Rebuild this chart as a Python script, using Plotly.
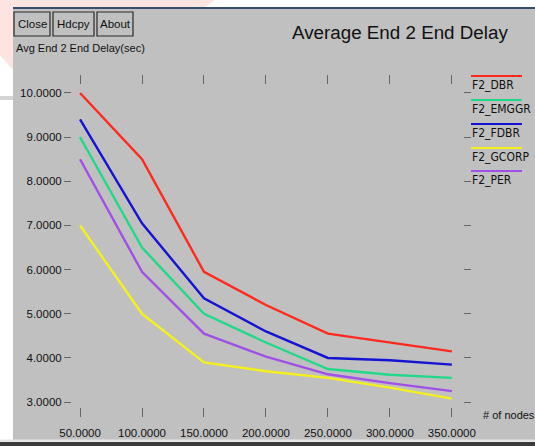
import plotly.graph_objects as go

# ---- data -------------------------------------------------------------
nodes = [50, 100, 150, 200, 250, 300, 350]
series_names = ["F2_DBR", "F2_EMGGR", "F2_FDBR", "F2_GCORP", "F2_PER"]
dbr = [10.0, 8.5, 5.95, 5.2, 4.55, 4.35, 4.15]
emggr = [9.0, 6.5, 5.0, 4.35, 3.75, 3.62, 3.55]
fdbr = [9.4, 7.05, 5.35, 4.6, 4.0, 3.95, 3.85]
gcorp = [7.0, 5.0, 3.9, 3.7, 3.55, 3.33, 3.08]
per = [8.5, 5.95, 4.55, 4.03, 3.63, 3.43, 3.25]
y_ticks = [3, 4, 5, 6, 7, 8, 9, 10]
x_ticks = nodes

series_values = [dbr, emggr, fdbr, gcorp, per]
colors = ["#ff2a1e", "#22d98a", "#1414d2", "#f4f01e", "#a050e6"]

W, H = 535, 446
L, R, T, B = 72, 72, 85, 39
PW, PH = W - L - R, H - T - B
FONT = "Liberation Sans, Arial, sans-serif"
NARROW = "Liberation Sans Narrow, DejaVu Sans Condensed, Arial Narrow, sans-serif"
PANEL = "#c0c0c0"


def px(x):
    return (x - L) / PW


def py(y):
    return (H - B - y) / PH


fig = go.Figure()
for name, vals, col in zip(series_names, series_values, colors):
    fig.add_trace(go.Scatter(x=nodes, y=vals, mode="lines", name=name,
                             line=dict(color=col, width=2.4)))

shapes = []
annotations = []

# window panel and frame bits
shapes.append(dict(type="rect", xref="paper", yref="paper", layer="below",
                   x0=px(13), x1=px(W + 2), y0=py(440), y1=py(8),
                   fillcolor=PANEL, line=dict(width=0)))
shapes.append(dict(type="line", xref="paper", yref="paper",
                   x0=px(13), x1=px(W), y0=py(8), y1=py(8),
                   line=dict(color="#34506e", width=2)))
shapes.append(dict(type="rect", xref="paper", yref="paper", layer="below",
                   x0=px(0), x1=px(W), y0=py(H + 1), y1=py(442),
                   fillcolor="#3c3c3c", line=dict(width=0)))
shapes.append(dict(type="rect", xref="paper", yref="paper", layer="below",
                   x0=px(0), x1=px(W), y0=py(442), y1=py(439.5),
                   fillcolor="#e6e6e6", line=dict(width=0)))
# faint pink tint at the top-left
shapes.append(dict(type="path", xref="paper", yref="paper", layer="below",
                   path=f"M {px(0)},{py(0)} L {px(215)},{py(0)} L {px(205)},{py(7)} "
                        f"L {px(13)},{py(7)} L {px(13)},{py(70)} L {px(0)},{py(55)} Z",
                   fillcolor="#fde4e0", line=dict(width=0)))
shapes.append(dict(type="rect", xref="paper", yref="paper", layer="below",
                   x0=px(0), x1=px(13), y0=py(100), y1=py(96),
                   fillcolor="#d4d4d4", line=dict(width=0)))

# buttons
for label, x0, x1 in [("Close", 14, 50), ("Hdcpy", 53, 94), ("About", 97, 133)]:
    shapes.append(dict(type="rect", xref="paper", yref="paper",
                       x0=px(x0), x1=px(x1), y0=py(36), y1=py(12),
                       fillcolor=PANEL, line=dict(color="#2a2a2a", width=1.2)))
    annotations.append(dict(text=label, xref="paper", yref="paper",
                            x=px((x0 + x1) / 2), y=py(24.5), showarrow=False,
                            xanchor="center", yanchor="middle",
                            font=dict(family=FONT, size=11.5, color="#111")))

annotations.append(dict(text="Avg End 2 End Delay(sec)", xref="paper", yref="paper",
                        x=px(14), y=py(48), showarrow=False,
                        xanchor="left", yanchor="middle",
                        font=dict(family=FONT, size=11, color="#111")))
annotations.append(dict(text="Average End 2 End Delay", xref="paper", yref="paper",
                        x=px(400), y=py(33), showarrow=False,
                        xanchor="center", yanchor="middle",
                        font=dict(family=FONT, size=18.8, color="#111")))
annotations.append(dict(text="# of nodes", xref="paper", yref="paper",
                        x=px(481), y=py(415), showarrow=False,
                        xanchor="left", yanchor="middle",
                        font=dict(family=FONT, size=11, color="#111")))

# legend: colour bar above each series name
legend_text_y = [85, 109, 133, 157, 180]
for name, col, ty in zip(series_names, colors, legend_text_y):
    shapes.append(dict(type="line", xref="paper", yref="paper",
                       x0=px(471), x1=px(522), y0=py(ty - 9), y1=py(ty - 9),
                       line=dict(color=col, width=2)))
    annotations.append(dict(text=name, xref="paper", yref="paper",
                            x=px(470), y=py(ty), showarrow=False,
                            xanchor="left", yanchor="middle",
                            font=dict(family=NARROW, size=12, color="#111")))

fig.update_layout(
    width=W, height=H,
    margin=dict(l=L, r=R, t=T, b=B),
    paper_bgcolor="#ffffff",
    plot_bgcolor=PANEL,
    showlegend=False,
    shapes=shapes,
    annotations=annotations,
)
fig.update_xaxes(
    range=[43.5, 359], tickmode="array", tickvals=x_ticks,
    ticktext=[f"{v:.4f}" for v in x_ticks],
    showgrid=False, zeroline=False, showline=False,
    ticks="outside", ticklen=9, tickwidth=1.2, tickcolor="#666",
    mirror="ticks", ticklabelstandoff=6, automargin=False,
    tickfont=dict(family=FONT, size=11.5, color="#111"),
)
fig.update_yaxes(
    range=[2.89, 10.18], tickmode="array", tickvals=y_ticks,
    ticktext=[f"{v:.4f}" for v in y_ticks],
    showgrid=False, zeroline=False, showline=False,
    ticks="outside", ticklen=7, tickwidth=1.2, tickcolor="#666",
    mirror="ticks", automargin=False,
    tickfont=dict(family=FONT, size=11.5, color="#111"),
)

fig.write_html("out.html")
